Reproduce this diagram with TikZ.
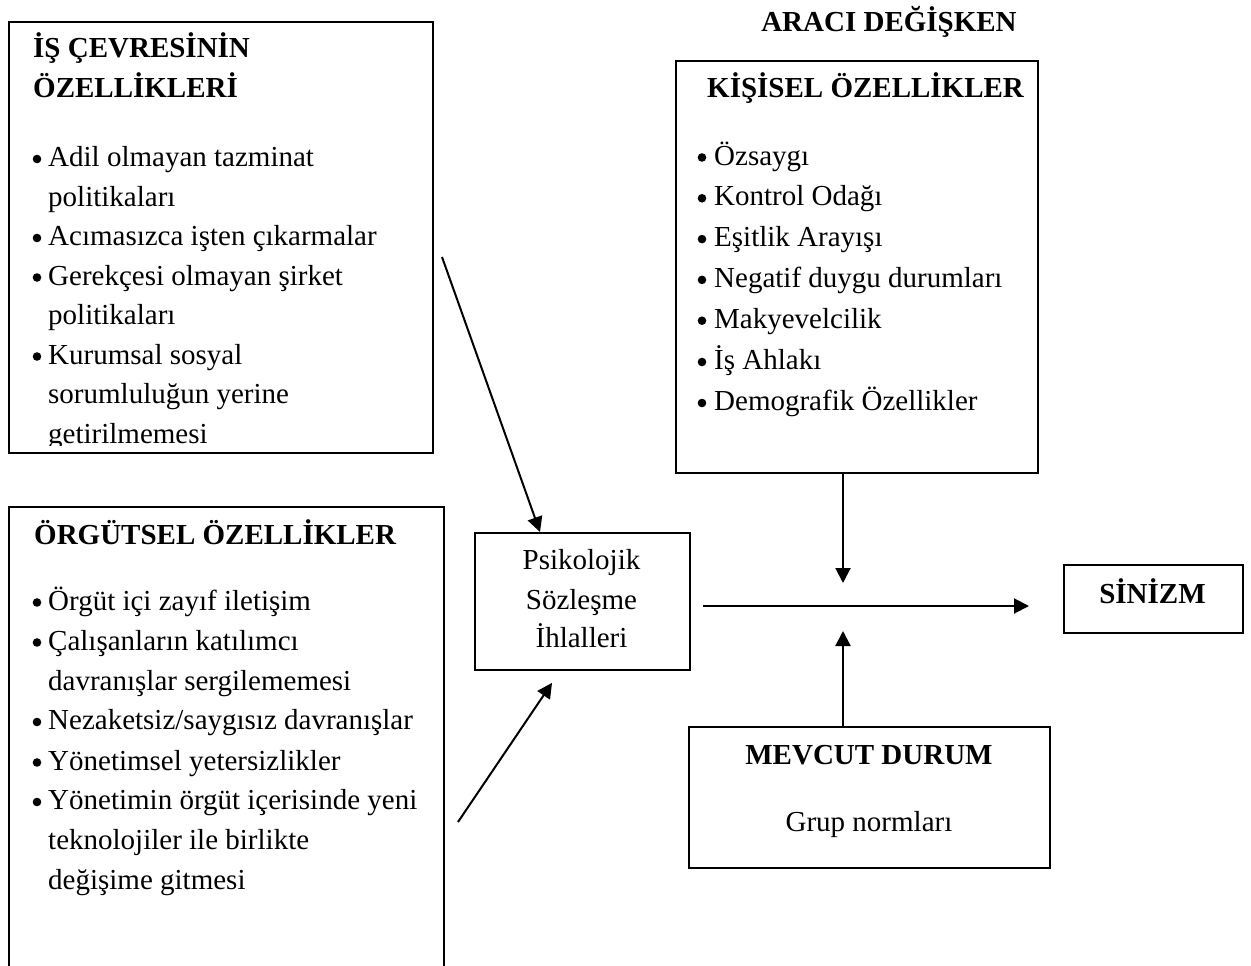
\documentclass[tikz,border=0pt]{standalone}
\usepackage{fontspec}
\setmainfont{Liberation Serif}
\usetikzlibrary{arrows.meta,calc}
\begin{document}
\begin{tikzpicture}[x=1pt,y=-1pt,
  box/.style={draw, line width=1.9pt, inner sep=0pt, anchor=north west},
  txt/.style={anchor=base west, inner sep=0pt, font=\fontsize{29}{33}\selectfont},
  hd/.style={anchor=base west, inner sep=0pt, font=\fontsize{29}{33}\selectfont\bfseries},
  ctr/.style={anchor=base, inner sep=0pt, font=\fontsize{29}{33}\selectfont},
  ctrb/.style={anchor=base, inner sep=0pt, font=\fontsize{29}{33}\selectfont\bfseries},
  bul/.style={circle, fill=black, inner sep=0pt, minimum size=8.6pt},
  arr/.style={line width=2pt, -{Triangle[length=15pt,width=15pt]}}
]
\useasboundingbox (0,0) rectangle (1251,966);
\clip (0,0) rectangle (1251,966);

% boxes
\node[box, minimum width=424pt, minimum height=431pt] (ise) at (8,21) {};
\node[box, minimum width=435pt, minimum height=500pt] (org) at (8,506) {};
\node[box, minimum width=215pt, minimum height=137pt] (psy) at (474,532) {};
\node[box, minimum width=362pt, minimum height=412pt] (kis) at (675,60) {};
\node[box, minimum width=179pt, minimum height=68pt] (sin) at (1063,564) {};
\node[box, minimum width=361pt, minimum height=141pt] (mev) at (688,726) {};

% title
\node[ctrb] (araci) at (889,32) {ARACI DEĞİŞKEN};

% top-left box text
\begin{scope}
\clip (10,23) rectangle (430,445);
\node[hd] (iseh1) at (33,58) {İŞ ÇEVRESİNİN};
\node[hd] (iseh2) at (33,98) {ÖZELLİKLERİ};
\node[bul] (iseb1) at (37,159) {};
\node[txt] (iset1) at (48,166.5) {Adil olmayan tazminat};
\node[txt] (iset2) at (48,206) {politikaları};
\node[bul] (iseb2) at (37,238) {};
\node[txt] (iset3) at (48,245.5) {Acımasızca işten çıkarmalar};
\node[bul] (iseb3) at (37,277.5) {};
\node[txt] (iset4) at (48,285) {Gerekçesi olmayan şirket};
\node[txt] (iset5) at (48,324.5) {politikaları};
\node[bul] (iseb4) at (37,356.5) {};
\node[txt] (iset6) at (48,364) {Kurumsal sosyal};
\node[txt] (iset7) at (48,403.5) {sorumluluğun yerine};
\node[txt] (iset8) at (48,443) {getirilmemesi};
\end{scope}

% bottom-left box text
\node[hd] (orgh) at (34,544) {ÖRGÜTSEL ÖZELLİKLER};
\node[bul] (orgb1) at (37,602.5) {};
\node[txt] (orgt1) at (48,610) {Örgüt içi zayıf iletişim};
\node[bul] (orgb2) at (37,642.5) {};
\node[txt] (orgt2) at (48,650) {Çalışanların katılımcı};
\node[txt] (orgt3) at (48,690) {davranışlar sergilememesi};
\node[bul] (orgb3) at (37,722) {};
\node[txt] (orgt4) at (48,729.5) {Nezaketsiz/saygısız davranışlar};
\node[bul] (orgb4) at (37,762.5) {};
\node[txt] (orgt5) at (48,770) {Yönetimsel yetersizlikler};
\node[bul] (orgb5) at (37,802) {};
\node[txt] (orgt6) at (48,809.5) {Yönetimin örgüt içerisinde yeni};
\node[txt] (orgt7) at (48,849.5) {teknolojiler ile birlikte};
\node[txt] (orgt8) at (48,889) {değişime gitmesi};

% psychological contract
\node[ctr] (psy1) at (581.5,569) {Psikolojik};
\node[ctr] (psy2) at (581.5,609) {Sözleşme};
\node[ctr] (psy3) at (581.5,647) {İhlalleri};

% personal traits
\node[hd] (kish) at (707,98) {KİŞİSEL ÖZELLİKLER};
\node[bul] (kisb1) at (702,157.5) {};
\node[txt] (kist1) at (714,165) {Özsaygı};
\node[bul] (kisb2) at (702,198.3) {};
\node[txt] (kist2) at (714,205.8) {Kontrol Odağı};
\node[bul] (kisb3) at (702,239.1) {};
\node[txt] (kist3) at (714,246.6) {Eşitlik Arayışı};
\node[bul] (kisb4) at (702,279.9) {};
\node[txt] (kist4) at (714,287.4) {Negatif duygu durumları};
\node[bul] (kisb5) at (702,320.7) {};
\node[txt] (kist5) at (714,328.2) {Makyevelcilik};
\node[bul] (kisb6) at (702,362) {};
\node[txt] (kist6) at (714,369.5) {İş Ahlakı};
\node[bul] (kisb7) at (702,403) {};
\node[txt] (kist7) at (714,410.5) {Demografik Özellikler};

% SİNİZM
\node[ctrb] (sint) at (1152.5,603) {SİNİZM};

% MEVCUT DURUM
\node[ctrb] (mevh) at (869,764) {MEVCUT DURUM};
\node[ctr] (mevt) at (869,831) {Grup normları};

% connectors
\coordinate (a1s) at (442,257);
\coordinate (a2s) at (458,822);
\coordinate (dtip) at (843,583);
\coordinate (utip) at (843,631);
\coordinate (hs) at (703,606);
\coordinate (he) at (1029,606);

\draw[arr] (a1s) -- ($(psy.north west)+(66,0)$);
\draw[arr] (a2s) -- ($(psy.south west)+(78,12)$);
\draw[arr] ($(kis.south west)+(168,0)$) -- (dtip);
\draw[arr] ($(mev.north west)+(155,0)$) -- (utip);
\draw[arr] (hs) -- (he);
\end{tikzpicture}
\end{document}
